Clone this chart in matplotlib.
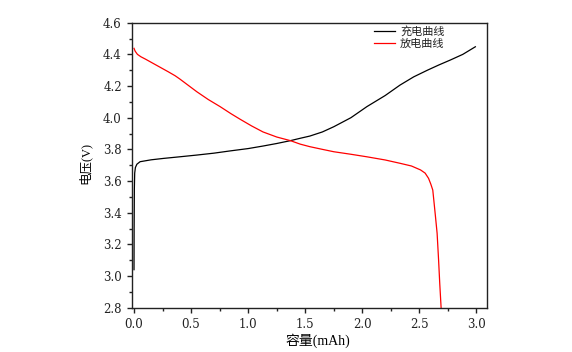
#!/usr/bin/env python3
'''Charge / discharge curves (voltage vs capacity).'''

import matplotlib
matplotlib.use('Agg')
import matplotlib.pyplot as plt
from matplotlib.ticker import MultipleLocator, FormatStrFormatter

plt.rcParams['font.family'] = ['Liberation Serif', 'Noto Sans CJK SC']

# charge curve (black)
charge_cap = [0.0, 0.001, 0.003, 0.006, 0.012, 0.025, 0.053, 0.15, 0.26, 0.4,
              0.55, 0.7, 0.84, 1.0, 1.13, 1.25, 1.37, 1.456, 1.54, 1.65, 1.75,
              1.9, 2.04, 2.2, 2.33, 2.45, 2.57, 2.67, 2.77, 2.88, 2.99]
charge_v = [3.04, 3.3, 3.55, 3.65, 3.685, 3.706, 3.722, 3.734, 3.743, 3.753,
            3.764, 3.776, 3.79, 3.805, 3.821, 3.837, 3.855, 3.87, 3.884, 3.91,
            3.943, 4.0, 4.07, 4.14, 4.206, 4.258, 4.30, 4.333, 4.364, 4.40, 4.448]

# discharge curve (red)
dis_cap = [0.0, 0.01, 0.03, 0.06, 0.1, 0.14, 0.2, 0.25, 0.3, 0.36, 0.4, 0.45,
           0.55, 0.65, 0.754, 0.85, 0.93, 1.03, 1.13, 1.25, 1.37, 1.456, 1.54,
           1.65, 1.75, 1.9, 2.04, 2.2, 2.33, 2.43, 2.51, 2.55, 2.58, 2.60,
           2.617, 2.626, 2.64, 2.655, 2.668, 2.678, 2.69]
dis_v = [4.438, 4.42, 4.40, 4.385, 4.37, 4.354, 4.33, 4.31, 4.29, 4.265, 4.245,
         4.218, 4.164, 4.115, 4.07, 4.025, 3.99, 3.948, 3.91, 3.878, 3.855,
         3.833, 3.817, 3.80, 3.785, 3.769, 3.753, 3.733, 3.712, 3.695, 3.67,
         3.65, 3.617, 3.58, 3.543, 3.48, 3.38, 3.27, 3.1, 2.954, 2.8]

fig = plt.figure(figsize=(5.72, 3.52), dpi=100)
ax = fig.add_axes([0.2303, 0.1259, 0.6207, 0.8096])

ax.plot(charge_cap, charge_v, color='k', lw=0.9, label='充电曲线')
ax.plot(dis_cap, dis_v, color='red', lw=0.9, label='放电曲线')

ax.set_xlim(-0.02, 3.09)
ax.set_ylim(2.8, 4.6)
ax.xaxis.set_major_locator(MultipleLocator(0.5))
ax.xaxis.set_minor_locator(MultipleLocator(0.25))
ax.yaxis.set_major_locator(MultipleLocator(0.2))
ax.yaxis.set_minor_locator(MultipleLocator(0.1))
ax.xaxis.set_major_formatter(FormatStrFormatter('%.1f'))
ax.yaxis.set_major_formatter(FormatStrFormatter('%.1f'))
ax.tick_params(which='major', direction='out', length=3.6, width=1,
               labelsize=8.5, colors='#222222', top=False, right=False)
ax.tick_params(which='minor', direction='out', length=2, width=1,
               colors='#222222', top=False, right=False)
for lbl in ax.get_xticklabels() + ax.get_yticklabels():
	lbl.set_family('DejaVu Serif')
for s in ax.spines.values():
	s.set_linewidth(1.0)
	s.set_color('#222222')

ax.set_xlabel('容量(mAh)', fontsize=10)
ax.set_ylabel('电压(V)', fontsize=9)
ax.xaxis.set_label_coords(0.523, -0.115)
ax.yaxis.set_label_coords(-0.1315, 0.508)
ax.yaxis.label.set_verticalalignment('center')
ax.xaxis.label.set_verticalalignment('center')

leg = ax.legend(loc='upper left', bbox_to_anchor=(0.683, 0.988), frameon=False,
                fontsize=8, handlelength=1.87, handletextpad=0.45,
                labelspacing=0.12, borderpad=0, borderaxespad=0)
for t in leg.get_texts():
	t.set_family('Noto Sans CJK SC')
	t.set_color('#222222')

fig.savefig('out.png', dpi=100)
